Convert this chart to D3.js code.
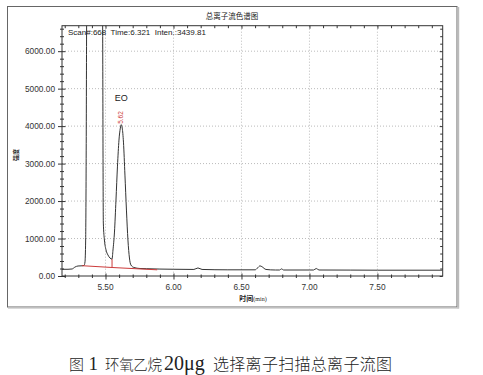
<!DOCTYPE html>
<html><head><meta charset="utf-8">
<script src="https://cdn.jsdelivr.net/npm/d3@7"></script>
<style>body{margin:0;background:#fff}</style>
</head><body><svg width="483" height="375"></svg>
<script>
var svg = d3.select("svg");

// TIC trace (min / intensity)
var times = [5.18, 5.224, 5.254, 5.276, 5.298, 5.327, 5.342, 5.349, 5.354, 5.358, 5.361, 5.366, 5.38, 5.42, 5.46, 5.472, 5.479, 5.484,
    5.492, 5.504, 5.518, 5.533, 5.548, 5.555, 5.566, 5.577, 5.588, 5.599, 5.609, 5.615, 5.623, 5.632, 5.643, 5.654, 5.665, 5.676,
    5.687, 5.709, 5.754, 5.80, 5.90, 6.00, 6.15, 6.18, 6.21, 6.40, 6.60, 6.62, 6.636, 6.65, 6.68, 6.75, 6.78, 6.795, 6.81,
    7.00, 7.03, 7.05, 7.07, 7.30, 7.50, 7.98];
var intens = [179, 179, 187, 240, 267, 272, 280, 373, 960, 3360, 6690, 9500, 25000, 52000, 22000, 12000, 6700, 1413,
    960, 693, 560, 480, 450, 693, 1173, 2027, 2933, 3627, 3947, 4040, 3947, 3573, 2693, 1760, 960, 480,
    293, 227, 200, 195, 185, 180, 175, 215, 175, 165, 165, 220, 270, 250, 175, 160, 160, 190, 160,
    160, 160, 200, 160, 158, 155, 155];

// integration baseline + drop line (red)
var baseT = [5.327, 5.548, 5.88];
var baseI = [275, 227, 165];
var dropT = 5.548;
var dropI = [227, 450];

var xTicks = [5.5, 6.0, 6.5, 7.0, 7.5];
var yTicks = [0, 1000, 2000, 3000, 4000, 5000, 6000];

var pL = 62, pT = 25.7, pR = 442.7, pB = 276;

var x = d3.scaleLinear().domain([5.18, 7.98]).range([pL, pR]);
var y = d3.scaleLinear().domain([0, 6680]).range([pB, pT]);

var xMinor = d3.range(5.2, 7.98, 0.1).filter(function(v) { return !xTicks.some(function(t) { return Math.abs(t - v) < 1e-6 }) });
var yMinor = d3.range(200, 6680, 200).filter(function(v) { return v % 1000 !== 0 });

// outer frame, with a little shadow right/bottom
svg.append("rect").attr("x", 7.5).attr("y", 6.5).attr("width", 449.5).attr("height", 300.5)
    .attr("fill", "#fff").attr("stroke", "#666");
svg.append("line").attr("x1", 458.2).attr("x2", 458.2).attr("y1", 7).attr("y2", 308.5).attr("stroke", "#bbb").attr("stroke-width", 2);
svg.append("line").attr("x1", 8).attr("x2", 459).attr("y1", 308.2).attr("y2", 308.2).attr("stroke", "#ccc").attr("stroke-width", 1.2);

// grid
var grid = svg.append("g").attr("stroke", "#aaa").attr("stroke-dasharray", "1,2").attr("stroke-width", 0.8);
grid.selectAll(".gx").data(xTicks).enter().append("line")
    .attr("x1", function(d) { return x(d) }).attr("x2", function(d) { return x(d) })
    .attr("y1", pT).attr("y2", pB);
grid.selectAll(".gy").data(yTicks.slice(1)).enter().append("line")
    .attr("y1", function(d) { return y(d) }).attr("y2", function(d) { return y(d) })
    .attr("x1", pL).attr("x2", pR);

// plot box
svg.append("rect").attr("x", pL).attr("y", pT).attr("width", pR - pL).attr("height", pB - pT)
    .attr("fill", "none").attr("stroke", "#333").attr("stroke-width", 1);

function ax(gen, tx, ty, vals, size) {
    var g = svg.append("g").attr("transform", "translate(" + tx + "," + ty + ")")
        .call(gen.tickValues(vals).tickSize(size).tickFormat(""));
    g.select(".domain").remove();
    g.selectAll("line").attr("stroke", "#333");
    return g;
}
// left axis, ticks crossing
ax(d3.axisLeft(y), pL, 0, yTicks, 4);
ax(d3.axisRight(y), pL, 0, yTicks, 3.5);
ax(d3.axisLeft(y), pL, 0, yMinor, 2);
ax(d3.axisRight(y), pL, 0, yMinor, 2);
// right axis, inward ticks
ax(d3.axisLeft(y), pR, 0, yTicks, 3);
ax(d3.axisLeft(y), pR, 0, yMinor, 2.5);
// bottom axis, ticks crossing
ax(d3.axisBottom(x), 0, pB, xTicks, 3.5);
ax(d3.axisTop(x), 0, pB, xTicks, 2.5);
ax(d3.axisBottom(x), 0, pB, xMinor, 2);
ax(d3.axisTop(x), 0, pB, xMinor, 1.5);
// top axis, inward ticks
ax(d3.axisBottom(x), 0, pT, xTicks, 3);
ax(d3.axisBottom(x), 0, pT, xMinor, 2.5);

// tick labels
var fmt = d3.format(".2f");
svg.append("g").selectAll("text").data(yTicks).enter().append("text")
    .attr("x", 55).attr("y", function(d) { return y(d) + 3 })
    .attr("text-anchor", "end").attr("font-family", "Liberation Sans, Arial, sans-serif")
    .attr("font-size", 8.3).attr("fill", "#333").text(fmt);
svg.append("g").selectAll("text").data(xTicks).enter().append("text")
    .attr("x", function(d) { return x(d) }).attr("y", 290)
    .attr("text-anchor", "middle").attr("font-family", "Liberation Sans, Arial, sans-serif")
    .attr("font-size", 8.3).attr("fill", "#333").text(fmt);

// clip
svg.append("clipPath").attr("id", "clip").append("rect")
    .attr("x", pL).attr("y", pT).attr("width", pR - pL).attr("height", pB - pT);
var plot = svg.append("g").attr("clip-path", "url(#clip)");

var pts = times.map(function(t, i) { return [t, intens[i]] });
var line = d3.line().x(function(d) { return x(d[0]) }).y(function(d) { return y(d[1]) }).curve(d3.curveMonotoneX);
plot.append("path").datum(pts).attr("d", line).attr("fill", "none").attr("stroke", "#333").attr("stroke-width", 1);

var bpts = baseT.map(function(t, i) { return [t, baseI[i]] });
plot.append("path").datum(bpts).attr("d", d3.line().x(function(d) { return x(d[0]) }).y(function(d) { return y(d[1]) }))
    .attr("fill", "none").attr("stroke", "#cc3b3b").attr("stroke-width", 1);
plot.append("line").attr("x1", x(dropT)).attr("x2", x(dropT)).attr("y1", y(dropI[0])).attr("y2", y(dropI[1]))
    .attr("stroke", "#cc3b3b").attr("stroke-width", 1);

// labels
svg.append("text").attr("x", 232).attr("y", 19).attr("text-anchor", "middle")
    .attr("font-family", "Noto Sans CJK SC").attr("font-size", 7.5).attr("fill", "#222").text("总离子流色谱图");
svg.append("text").attr("x", 68).attr("y", 35).style("white-space", "pre")
    .attr("font-family", "Liberation Sans, Arial, sans-serif").attr("font-size", 8).attr("fill", "#222")
    .text("Scan#:668  Time:6.321  Inten.:3439.81");
svg.append("text").attr("x", x(5.615)).attr("y", 100.5).attr("text-anchor", "middle")
    .attr("font-family", "Liberation Sans, Arial, sans-serif").attr("font-size", 9).attr("fill", "#222").text("EO");
svg.append("text").attr("transform", "translate(" + (x(5.615) + 2.3) + ",117.5) rotate(-90)").attr("text-anchor", "middle")
    .attr("font-family", "Liberation Sans, Arial, sans-serif").attr("font-size", 6.5).attr("fill", "#cc3b3b").text("5.62");
svg.append("text").attr("transform", "translate(18,155) rotate(-90)").attr("text-anchor", "middle")
    .attr("font-family", "Noto Sans CJK SC").attr("font-size", 6).attr("font-weight", "bold").attr("fill", "#222").text("强度");
var xl = svg.append("text").attr("x", 253).attr("y", 300.5).attr("text-anchor", "middle").attr("fill", "#222");
xl.append("tspan").attr("font-family", "Noto Sans CJK SC").attr("font-size", 7).attr("font-weight", "bold").text("时间");
xl.append("tspan").attr("font-family", "Liberation Serif, serif").attr("font-size", 6).text("(min)");

// caption, each piece placed where it sits in the figure
var cap = svg.append("g").attr("fill", "#222").attr("font-weight", 300);
cap.append("text").attr("x", 69).attr("y", 370).attr("font-family", "Noto Sans CJK SC").attr("font-size", 15).text("图");
cap.append("text").attr("x", 88.5).attr("y", 370).attr("font-family", "Liberation Serif, serif").attr("font-size", 19).text("1");
cap.append("text").attr("x", 105).attr("y", 370).attr("font-family", "Noto Sans CJK SC").attr("font-size", 14.5)
    .attr("textLength", 57).attr("lengthAdjust", "spacing").text("环氧乙烷");
cap.append("text").attr("x", 164).attr("y", 370).attr("font-family", "Liberation Serif, serif").attr("font-size", 20).text("20μg");
cap.append("text").attr("x", 213).attr("y", 370).attr("font-family", "Noto Sans CJK SC").attr("font-size", 16)
    .attr("textLength", 179).attr("lengthAdjust", "spacing").text("选择离子扫描总离子流图");
</script>
</body></html>
